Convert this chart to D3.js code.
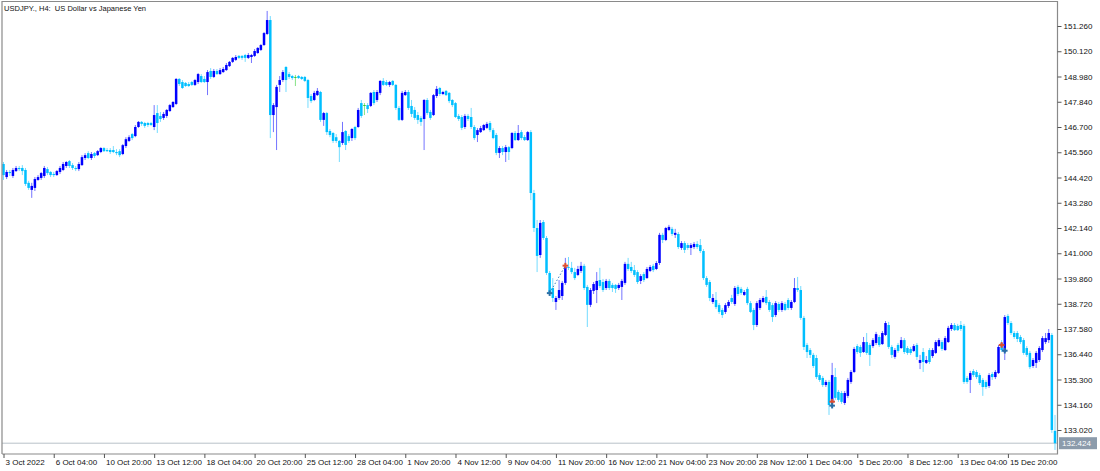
<!DOCTYPE html>
<html><head><meta charset="utf-8">
<script src="https://cdn.jsdelivr.net/npm/d3@7/dist/d3.min.js"></script>
<style>
html,body{margin:0;padding:0;background:#fff;}
svg{display:block;font-family:"Liberation Sans",Arial,sans-serif;}
</style>
</head><body>
<svg id="chart" width="1100" height="471"></svg>
<script>
const chartTitle = "USDJPY., H4:  US Dollar vs Japanese Yen";

const open = [
145.03,144.44,144.67,144.49,144.71,144.85,144.85,144.76,144.18,143.86,
143.95,144.31,144.40,144.49,144.80,144.67,144.58,144.53,144.67,144.76,
144.94,145.16,144.98,144.85,144.80,144.98,145.30,145.52,145.30,145.52,
145.43,145.57,145.75,145.66,145.66,145.66,145.57,145.61,145.48,145.84,
146.07,146.38,146.29,146.70,146.93,146.88,146.88,146.88,146.70,147.33,
147.20,147.11,147.20,147.42,147.60,147.74,148.87,148.73,148.69,148.64,
148.73,148.60,148.73,149.00,148.87,148.73,149.23,148.96,149.23,149.09,
149.18,149.27,149.45,149.64,149.73,149.91,149.91,149.95,149.82,149.86,
149.91,150.04,150.18,150.40,150.90,151.53,147.24,147.60,148.60,148.82,
149.41,149.09,149.00,148.96,149.00,148.96,148.96,148.82,148.10,147.92,
148.14,148.28,147.02,147.33,146.52,146.43,146.24,146.07,145.98,146.52,
146.29,146.20,146.70,146.70,147.78,147.69,147.69,147.65,148.28,147.92,
148.24,148.78,148.73,148.60,148.78,148.60,147.56,147.02,148.14,148.28,
147.65,147.47,147.24,147.11,147.06,147.92,147.38,147.24,148.10,148.46,
148.19,148.33,148.24,147.92,147.78,147.20,147.15,146.70,147.20,147.15,
146.70,146.34,146.47,146.56,146.66,146.88,146.56,146.34,145.53,145.75,
145.57,145.79,145.75,146.43,146.11,146.47,146.25,146.11,146.47,143.72,
142.14,140.92,142.41,141.69,140.11,139.43,138.80,138.98,139.07,139.66,
140.38,140.34,140.15,140.02,140.20,140.43,139.48,138.67,139.30,139.34,
139.79,139.70,139.43,139.75,139.57,139.57,139.43,139.48,139.66,140.52,
140.38,140.24,140.15,139.75,140.06,139.88,140.20,140.43,140.29,140.56,
141.83,141.60,142.05,142.10,141.83,141.87,141.24,141.46,141.37,141.24,
141.28,141.42,141.37,141.10,139.88,139.70,138.80,138.89,138.66,138.44,
138.35,138.62,138.98,138.71,139.48,139.39,139.12,139.39,138.75,138.44,
137.76,138.53,138.80,139.03,138.80,138.66,138.21,138.71,138.44,138.71,
138.89,138.53,138.80,139.43,139.34,138.08,136.86,136.63,136.41,136.27,
135.50,135.37,135.05,135.19,134.24,135.41,134.74,134.69,134.24,134.56,
135.19,135.64,136.81,136.77,136.54,136.99,136.86,136.81,136.95,137.22,
136.90,137.31,137.76,136.77,136.32,136.86,136.72,137.08,136.72,136.68,
136.59,136.86,136.05,136.54,136.05,136.63,136.36,136.50,136.81,136.99,
136.63,136.99,137.58,137.76,137.72,137.76,137.72,135.37,135.28,135.68,
135.64,135.50,135.28,135.19,135.01,135.55,135.41,135.59,136.95,136.54,
138.17,137.85,137.40,137.40,137.22,137.08,136.72,136.50,135.91,136.05,
136.18,136.63,136.99,137.08,137.31,132.98
];
const high = [
145.12,144.76,144.76,144.85,144.94,144.94,144.98,144.85,144.27,144.18,
144.44,144.53,144.67,144.94,144.89,144.71,144.67,144.76,144.94,145.12,
145.16,145.21,145.07,144.94,145.12,145.43,145.52,145.61,145.57,145.57,
145.66,145.79,145.79,145.75,145.75,145.84,145.70,145.70,145.93,146.24,
146.33,146.43,146.79,146.97,146.97,146.93,146.93,146.93,147.69,147.69,
147.38,147.38,147.51,147.74,147.87,148.91,148.91,148.82,148.73,148.73,
148.78,148.87,149.14,149.09,149.00,149.27,149.36,149.32,149.32,149.36,
149.41,149.59,149.68,149.86,149.95,149.95,149.95,150.00,150.04,150.00,
150.22,150.31,150.45,150.99,151.94,151.71,147.78,148.60,149.00,149.27,
149.45,149.18,149.05,149.05,149.05,149.00,149.00,148.87,148.19,148.33,
148.46,148.33,147.38,147.38,146.61,146.47,146.38,146.11,146.93,146.56,
146.38,146.65,146.75,147.56,147.92,147.78,147.78,148.28,148.37,148.37,
148.82,148.91,148.82,148.78,148.82,148.64,147.65,148.33,148.37,148.37,
147.92,147.60,147.38,147.20,147.96,148.01,147.47,148.19,148.55,148.51,
148.33,148.37,148.28,147.96,147.83,147.29,147.24,147.29,147.29,147.56,
146.79,146.65,146.75,146.84,146.93,146.97,146.65,146.43,145.84,145.84,
145.89,145.84,146.47,146.52,146.79,146.56,146.34,146.52,146.56,143.86,
142.50,142.50,142.50,141.78,140.20,139.88,139.07,139.79,139.75,140.79,
140.83,140.61,140.34,140.43,140.61,140.52,139.57,139.43,139.70,140.15,
140.34,139.84,139.84,139.84,139.66,139.61,139.66,139.84,140.61,140.79,
140.61,140.47,140.24,140.06,140.15,140.38,140.47,140.52,140.65,141.92,
141.92,142.19,142.28,142.19,142.10,141.96,141.55,141.55,141.46,141.46,
141.51,141.55,141.64,141.19,139.97,139.79,139.16,139.25,138.75,138.53,
138.75,138.89,139.12,139.52,139.57,139.48,139.34,139.48,138.84,138.53,
138.84,138.98,139.07,139.34,138.89,138.75,138.84,138.80,138.84,138.80,
138.98,138.89,139.88,139.93,139.52,138.17,136.95,136.72,136.50,136.41,
135.59,135.46,135.28,135.28,136.05,135.82,134.83,134.78,134.78,135.37,
135.73,136.77,136.90,136.86,137.22,137.40,136.95,137.17,137.45,137.31,
137.49,137.94,137.90,136.86,136.72,136.95,137.22,137.17,136.81,136.77,
136.90,136.95,136.41,136.72,136.36,136.72,136.72,137.08,137.17,137.08,
137.26,137.72,137.85,137.85,137.81,137.94,137.81,135.46,135.69,135.77,
135.73,135.59,135.37,135.28,135.59,135.64,135.73,136.86,137.08,138.21,
138.26,137.94,137.49,137.49,137.31,137.17,136.81,136.59,136.27,136.59,
136.81,137.26,137.40,137.58,137.40,133.70
];
const low = [
144.31,144.35,144.49,144.40,144.67,144.71,144.53,144.04,143.86,143.50,
143.81,144.27,144.31,144.40,144.53,144.44,144.44,144.49,144.58,144.71,
144.85,144.85,144.76,144.71,144.71,144.94,145.21,145.25,145.21,145.30,
145.39,145.52,145.57,145.57,145.48,145.52,145.43,145.34,145.43,145.75,
146.02,146.11,146.24,146.66,146.75,146.66,146.70,146.75,146.56,146.43,
146.93,147.02,147.11,147.38,147.56,147.69,148.55,148.42,148.51,148.51,
148.55,148.55,148.64,148.69,148.69,148.14,148.87,148.91,149.05,149.05,
149.14,149.23,149.41,149.59,149.68,149.77,149.73,149.64,149.77,149.59,
149.86,150.00,150.13,150.36,150.85,146.20,146.47,145.66,148.28,148.73,
148.28,148.87,148.82,148.55,148.87,148.82,148.73,147.56,147.78,147.87,
148.10,146.93,146.75,146.34,146.24,145.98,145.98,145.12,145.89,145.66,
145.98,146.07,146.11,146.66,147.11,147.24,147.33,147.60,147.69,147.83,
148.14,148.55,148.55,148.51,148.55,147.47,146.97,146.97,148.10,147.47,
147.15,147.02,146.84,146.75,145.66,147.24,147.02,147.20,148.01,148.10,
148.14,148.10,147.78,147.60,147.11,146.97,146.56,146.61,146.97,146.61,
146.11,146.02,146.43,146.52,146.61,146.47,146.15,145.43,145.30,145.43,
145.12,145.21,145.70,146.07,146.07,146.11,146.07,146.07,143.40,141.96,
140.15,140.79,141.60,140.02,139.16,138.80,138.44,138.89,138.89,139.57,
140.24,140.06,139.79,139.97,140.11,139.34,137.67,138.57,139.16,138.75,
139.43,139.25,139.34,139.34,139.25,139.21,139.34,138.89,139.57,140.20,
140.11,139.93,139.61,139.61,139.70,139.84,140.15,140.15,140.24,140.47,
141.46,141.55,142.00,141.78,141.69,141.19,141.15,141.01,141.15,140.92,
141.19,141.19,141.01,139.79,139.48,138.84,138.71,138.48,138.26,138.08,
138.26,138.53,138.71,138.62,139.07,139.12,139.07,138.66,138.30,137.53,
137.67,138.44,138.75,138.66,138.35,137.90,138.12,138.35,138.35,138.39,
138.44,138.44,138.75,139.25,137.99,136.63,136.27,136.27,135.82,135.32,
135.19,134.96,134.96,133.70,134.15,134.38,134.29,134.20,134.15,134.47,
135.10,135.59,136.45,136.32,136.50,136.41,135.91,136.72,136.86,136.77,
136.86,137.26,136.68,136.27,136.23,136.50,136.68,136.45,136.41,136.41,
136.54,136.18,135.77,135.64,136.00,136.00,136.27,136.45,136.77,136.59,
136.59,136.95,137.49,137.49,137.49,137.49,135.10,135.10,134.69,135.41,
135.32,135.05,134.56,134.87,134.92,135.28,135.32,135.55,136.54,136.18,
137.76,137.31,137.13,136.99,136.90,136.41,136.32,135.77,135.82,135.82,
136.09,136.54,136.90,136.95,132.89,132.12
];
const close = [
144.53,144.67,144.62,144.76,144.85,144.80,144.71,144.13,143.95,144.04,
144.35,144.44,144.62,144.85,144.62,144.53,144.53,144.71,144.85,145.03,
145.12,144.94,144.85,144.80,145.03,145.34,145.43,145.30,145.48,145.39,
145.61,145.75,145.61,145.61,145.57,145.57,145.52,145.43,145.88,146.15,
146.24,146.20,146.70,146.93,146.84,146.75,146.79,146.79,147.24,146.88,
147.06,147.29,147.47,147.69,147.83,148.87,148.64,148.46,148.55,148.55,
148.60,148.82,149.09,148.73,148.73,149.18,148.96,149.23,149.09,149.27,
149.32,149.50,149.64,149.82,149.86,149.82,149.82,149.82,149.95,149.95,
150.13,150.27,150.40,150.94,151.53,147.24,147.69,148.51,148.82,149.18,
148.82,148.96,148.91,148.96,148.91,148.87,148.78,148.01,147.87,148.24,
148.33,147.02,147.33,146.47,146.34,146.07,146.07,145.79,146.47,145.89,
146.07,146.61,146.20,147.47,147.20,147.69,147.51,148.24,147.78,148.28,
148.78,148.60,148.60,148.73,148.60,147.56,147.02,148.24,148.28,147.56,
147.29,147.11,147.02,146.93,147.92,147.33,147.11,148.14,148.42,148.19,
148.28,148.14,147.87,147.69,147.15,147.06,146.66,147.20,147.06,146.70,
146.20,146.56,146.65,146.79,146.84,146.56,146.20,145.53,145.75,145.57,
145.79,145.57,146.43,146.11,146.43,146.20,146.11,146.47,143.72,142.14,
140.88,142.37,141.69,140.11,139.25,138.98,138.98,139.34,139.66,140.38,
140.34,140.15,139.88,140.29,140.43,139.43,138.67,139.34,139.61,139.75,
139.52,139.34,139.75,139.43,139.43,139.39,139.57,139.75,140.52,140.29,
140.20,140.02,139.70,139.97,139.79,140.29,140.38,140.24,140.56,141.83,
141.60,142.14,142.19,141.87,141.92,141.28,141.46,141.15,141.24,141.37,
141.42,141.28,141.10,139.88,139.57,138.98,138.98,138.57,138.35,138.21,
138.66,138.80,138.80,139.43,139.16,139.21,139.25,138.75,138.35,137.76,
138.75,138.89,138.98,138.75,138.44,138.12,138.75,138.44,138.75,138.44,
138.53,138.80,139.43,139.34,138.08,136.77,136.54,136.41,135.91,135.41,
135.28,135.05,135.19,134.15,135.50,134.47,134.38,134.29,134.69,135.28,
135.64,136.68,136.54,136.50,136.99,136.50,136.41,137.08,137.35,136.86,
137.40,137.85,136.77,136.41,136.63,136.59,137.08,136.54,136.50,136.50,
136.81,136.32,136.18,136.09,136.18,136.09,136.63,136.99,137.08,136.68,
137.17,137.63,137.76,137.53,137.53,137.58,135.19,135.19,135.59,135.50,
135.41,135.14,134.96,134.96,135.50,135.41,135.64,136.77,136.63,138.12,
137.85,137.40,137.22,137.13,136.99,136.50,136.41,135.86,136.18,136.50,
136.72,137.17,137.17,137.40,133.02,132.424
];

const xTickBars = [0,16,32,48,64,80,96,112,128,144,160,176,192,208,224,240,256,272,288,304,320];
const xTickLabels = ["3 Oct 2022","6 Oct 04:00","10 Oct 20:00","13 Oct 12:00","18 Oct 04:00",
  "20 Oct 20:00","25 Oct 12:00","28 Oct 04:00","1 Nov 20:00","4 Nov 12:00","9 Nov 04:00",
  "11 Nov 20:00","16 Nov 12:00","21 Nov 04:00","23 Nov 20:00","28 Nov 12:00","1 Dec 04:00",
  "5 Dec 20:00","8 Dec 12:00","13 Dec 04:00","15 Dec 20:00"];
const yTicks = [151.26,150.12,148.98,147.84,146.70,145.56,144.42,143.28,142.14,141.00,
  139.86,138.72,137.58,136.44,135.30,134.16,133.02];
const lastPrice = 132.424;

// trade history marks: bar index, price, side
const tradeBars   = [174, 179, 264, 264, 318, 319];
const tradePrices = [139.20, 140.44, 134.30, 134.12, 136.86, 136.60];
const tradeSides  = ["buy","sell","sell","buy","sell","buy"];
const tradeLinks  = [[0,1]];

const svg = d3.select("#chart");
const L = 2, R = 1057.5, T = 1.5, B = 454;

const x = d3.scaleLinear().domain([0, close.length - 1]).range([3.5, 1055]);
const y = d3.scaleLinear().domain([133.02, 151.26]).range([430, 26]);

svg.append("defs").append("clipPath").attr("id","clip")
  .append("rect").attr("x",L).attr("y",T).attr("width",R-L).attr("height",B-T);

// current price line
svg.append("line").attr("x1",L).attr("x2",R).attr("y1",y(lastPrice)).attr("y2",y(lastPrice))
  .attr("stroke","#b9c1c9").attr("stroke-width",1);

const bars = close.map((c,i)=>({i, o:open[i], h:high[i], l:low[i], c}));
const colorOf = d => Math.abs(d.c - d.o) < 0.005 ? "#22cc22" : (d.c > d.o ? "#0000ff" : "#00bfff");

const g = svg.append("g").attr("clip-path","url(#clip)");
g.selectAll("line.wick").data(bars).enter().append("line").attr("class","wick")
  .attr("x1",d=>x(d.i)).attr("x2",d=>x(d.i))
  .attr("y1",d=>y(d.h)).attr("y2",d=>y(d.l))
  .attr("stroke",colorOf).attr("stroke-opacity",0.55).attr("stroke-width",1);
const bw = 2.5;
g.selectAll("rect.body").data(bars).enter().append("rect").attr("class","body")
  .attr("x",d=>x(d.i)-bw/2).attr("width",bw)
  .attr("y",d=>y(Math.max(d.o,d.c)))
  .attr("height",d=>Math.max(0.9, Math.abs(y(d.o)-y(d.c))))
  .attr("fill",colorOf);

// trade links and markers
tradeLinks.forEach(([a,b])=>{
  svg.append("line").attr("x1",x(tradeBars[a])).attr("y1",y(tradePrices[a]))
    .attr("x2",x(tradeBars[b])).attr("y2",y(tradePrices[b]))
    .attr("stroke","#3b82c4").attr("stroke-width",1).attr("stroke-dasharray","1.5,2");
});
tradeBars.forEach((b,k)=>{
  const cx = x(b), cy = y(tradePrices[k]);
  const col = tradeSides[k]==="buy" ? "#2a6fa6" : "#e0502e";
  const m = svg.append("g").attr("transform",`translate(${cx},${cy})`);
  m.append("rect").attr("x",-2.8).attr("y",-1).attr("width",5.6).attr("height",2).attr("fill",col);
  m.append("rect").attr("x",-1).attr("y",-2.8).attr("width",2).attr("height",5.6).attr("fill",col);
});

// frame
svg.append("path").attr("d",`M${L},${B}V${T}H${R}V${B}H${L}`)
  .attr("fill","none").attr("stroke","#8a8a8a").attr("stroke-width",1.2);

// right axis
const yAxis = svg.append("g").attr("transform",`translate(${R},0)`)
  .call(d3.axisRight(y).tickValues(yTicks).tickSize(4).tickPadding(2).tickFormat(d3.format(".3f")));
yAxis.select(".domain").remove();
yAxis.selectAll("line").attr("stroke","#555");
yAxis.selectAll("text").attr("font-size","8px").attr("fill","#111")
  .attr("font-family",'"Liberation Sans",Arial,sans-serif');

// bottom axis
const xAxis = svg.append("g").attr("transform",`translate(0,${B})`)
  .call(d3.axisBottom(x).tickValues(xTickBars).tickSize(4).tickPadding(2)
    .tickFormat((d,i)=>xTickLabels[i]));
xAxis.select(".domain").remove();
xAxis.selectAll("line").attr("stroke","#555");
xAxis.selectAll("text").attr("text-anchor","start").attr("dx","1.5").attr("dy","0.6em")
  .attr("font-size","8px").attr("fill","#111")
  .attr("font-family",'"Liberation Sans",Arial,sans-serif');

// last price label
const lp = svg.append("g").attr("transform",`translate(${R+1.5},${y(lastPrice)})`);
lp.append("rect").attr("x",0).attr("y",-6).attr("width",38).attr("height",12).attr("fill","#8c9bab");
lp.append("text").attr("x",3).attr("y",3).attr("font-size","8px").attr("fill","#fff")
  .text(d3.format(".3f")(lastPrice));

// title
svg.append("text").attr("x",4).attr("y",11).attr("font-size","7.6px").attr("fill","#111")
  .attr("textLength",142).attr("lengthAdjust","spacingAndGlyphs")
  .style("white-space","pre").text(chartTitle);
</script>
</body></html>
